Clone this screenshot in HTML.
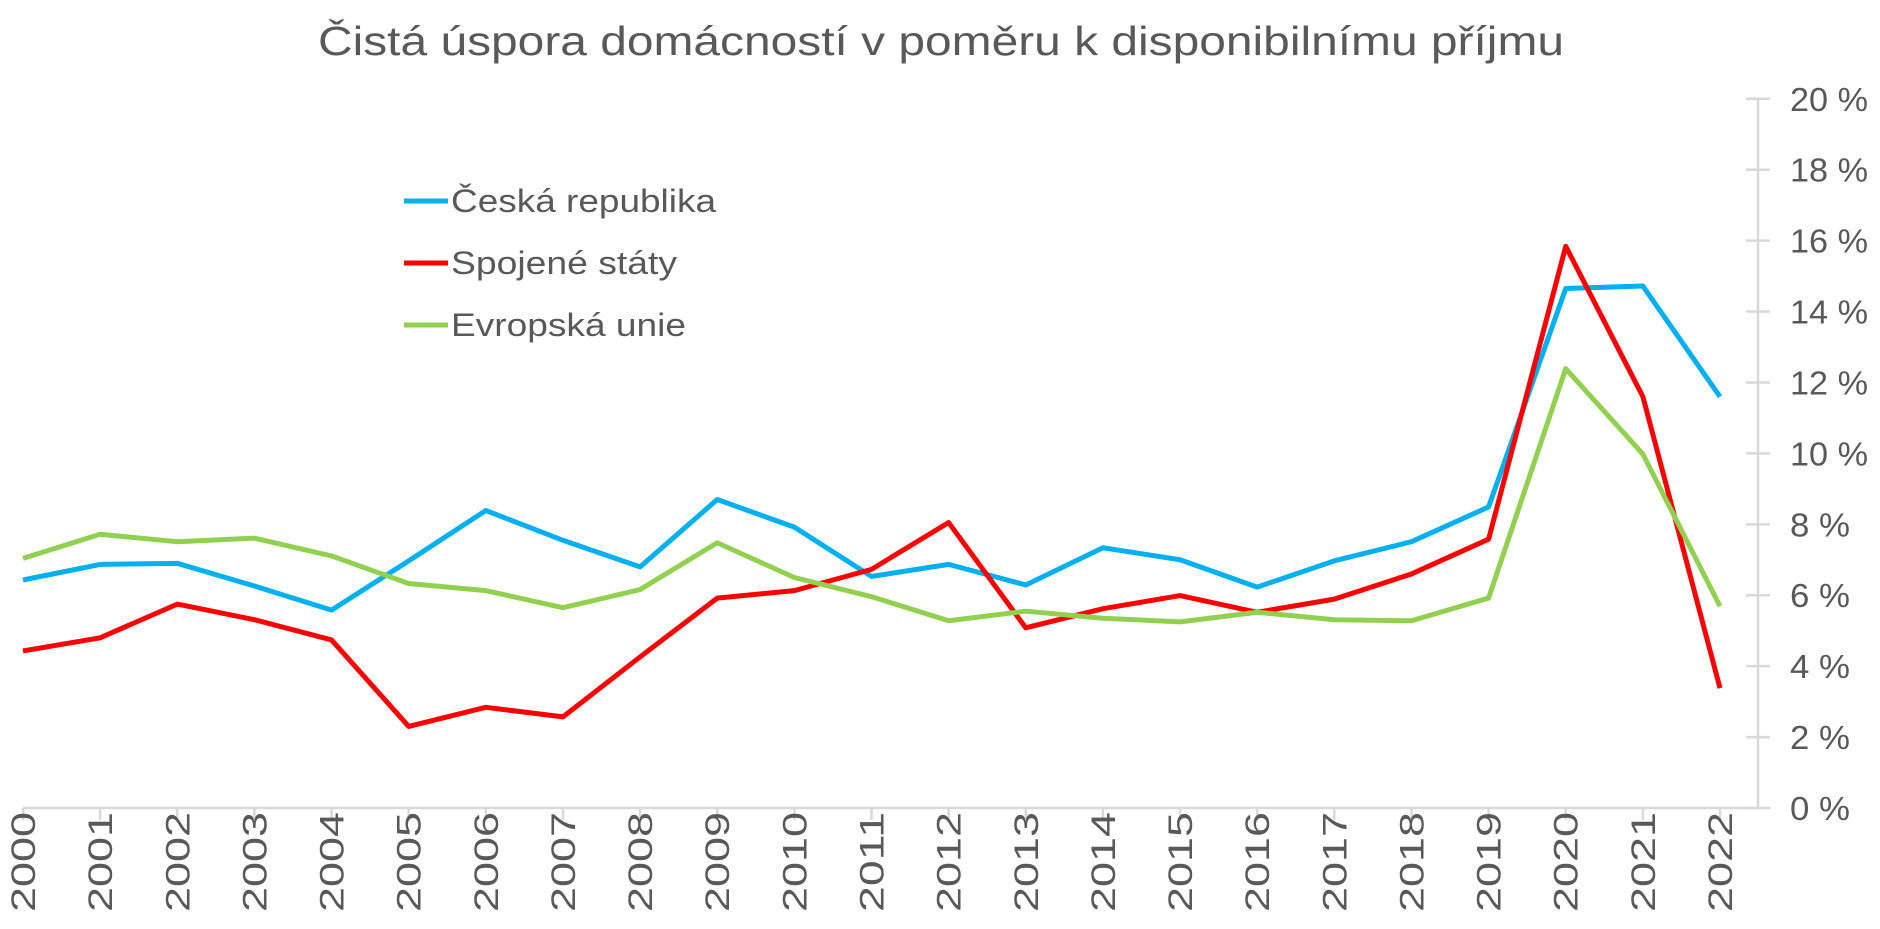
<!DOCTYPE html>
<html><head><meta charset="utf-8"><style>
html,body{margin:0;padding:0;background:#fff;}
svg{display:block;font-family:"Liberation Sans",sans-serif;}
</style></head><body>
<svg id="s" width="1880" height="929" xmlns="http://www.w3.org/2000/svg">
<text x="318" y="55" font-size="41" fill="#595959" textLength="1246" lengthAdjust="spacingAndGlyphs">Čistá úspora domácností v poměru k disponibilnímu příjmu</text>
<g id="ax" stroke="#d9d9d9" stroke-width="2.5" fill="none"></g>
<g id="lbl" fill="#595959" font-size="32"></g>
<g id="ser" fill="none" stroke-width="5" stroke-linejoin="round"></g>
<line x1="404" y1="201" x2="448" y2="201" stroke="#00b0f0" stroke-width="5"/>
<line x1="404" y1="263" x2="448" y2="263" stroke="#ff0000" stroke-width="5"/>
<line x1="404" y1="325" x2="448" y2="325" stroke="#92d050" stroke-width="5"/>
<text x="451" y="212" font-size="32" fill="#595959" textLength="265" lengthAdjust="spacingAndGlyphs">Česká republika</text>
<text x="451" y="274" font-size="32" fill="#595959" textLength="226" lengthAdjust="spacingAndGlyphs">Spojené státy</text>
<text x="451" y="336" font-size="32" fill="#595959" textLength="235" lengthAdjust="spacingAndGlyphs">Evropská unie</text>
</svg>
<script>
var NS="http://www.w3.org/2000/svg";
function el(p,t,a,txt){var e=document.createElementNS(NS,t);for(var k in a)e.setAttribute(k,a[k]);if(txt!=null)e.textContent=txt;document.getElementById(p).appendChild(e);}
var x0=23,dx=(1720-23)/22,y0=808,py=35.46;
function X(i){return x0+i*dx}function Y(v){return y0-v*py}
el("ax","line",{x1:x0,y1:y0,x2:1758,y2:y0});
el("ax","line",{x1:1758,y1:Y(20),x2:1758,y2:y0});
for(var i=0;i<23;i++){el("ax","line",{x1:X(i),y1:y0,x2:X(i),y2:820});
 var x=X(i)+12;el("lbl","text",{x:x,y:812,transform:"rotate(-90 "+x+" 812)","text-anchor":"end","font-size":"34",textLength:"100",lengthAdjust:"spacingAndGlyphs"},String(2000+i));}
for(var v=0;v<=20;v+=2){el("ax","line",{x1:1746,y1:Y(v),x2:1770,y2:Y(v)});
 el("lbl","text",{x:1790,y:Y(v)+12,"font-size":"33",textLength:(v>=10?78:60),lengthAdjust:"spacingAndGlyphs"},v+" %");}
var cz=[6.43,6.87,6.9,6.26,5.58,6.97,8.39,7.55,6.8,8.7,7.92,6.53,6.87,6.29,7.34,7.0,6.23,6.97,7.51,8.49,14.65,14.72,11.6];
var us=[4.43,4.8,5.75,5.31,4.74,2.3,2.84,2.57,4.26,5.92,6.13,6.73,8.05,5.08,5.62,5.99,5.52,5.89,6.6,7.58,15.84,11.6,3.38];
var eu=[7.04,7.72,7.51,7.61,7.11,6.33,6.13,5.65,6.16,7.48,6.5,5.96,5.28,5.55,5.35,5.25,5.52,5.31,5.28,5.92,12.39,9.98,5.69];
function pl(d,c){el("ser","polyline",{stroke:c,points:d.map(function(v,i){return X(i)+","+Y(v)}).join(" ")});}
pl(cz,"#00b0f0");pl(us,"#ff0000");pl(eu,"#92d050");
</script>
</body></html>
